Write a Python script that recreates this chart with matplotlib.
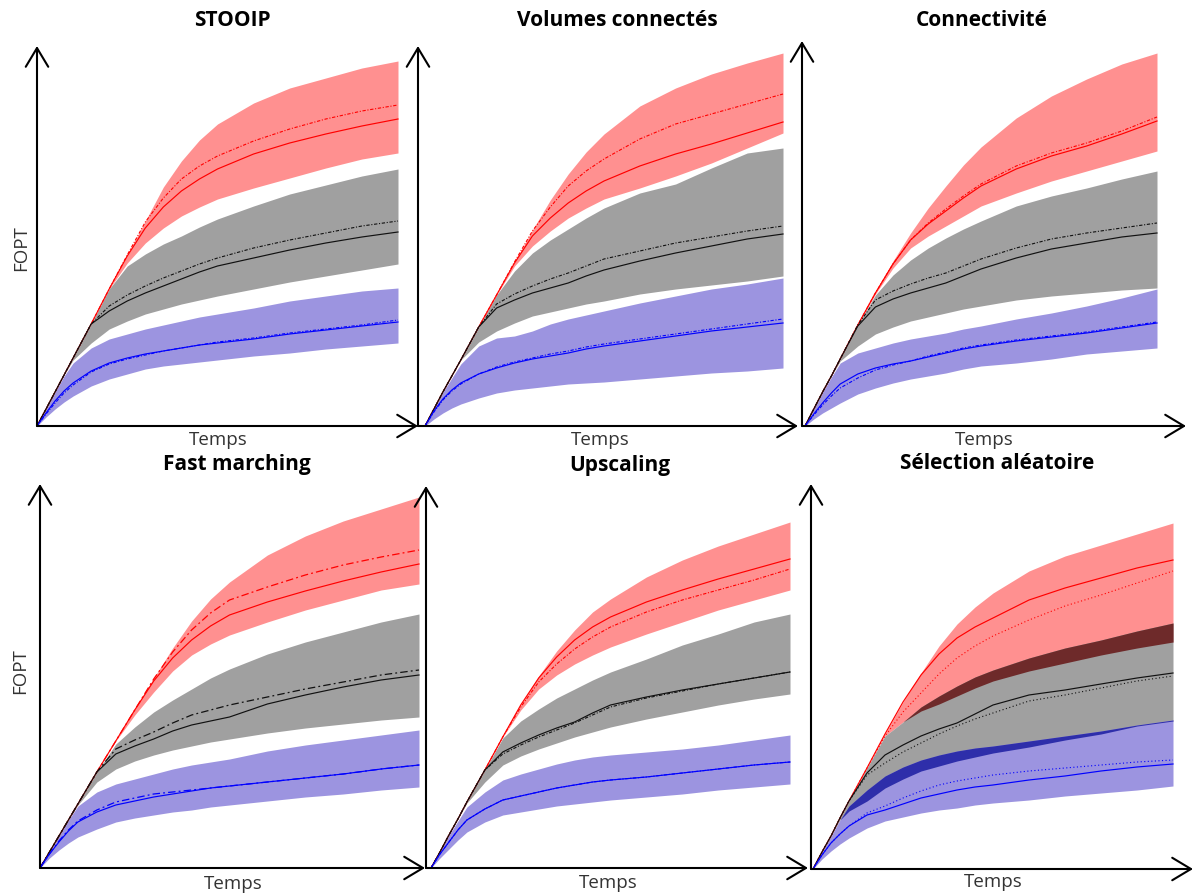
import matplotlib.pyplot as plt

plt.rcParams['font.family'] = ['Open Sans', 'DejaVu Sans']

# time axis (percent of simulated period)
T = [0, 2.5, 5, 7.5, 10, 15, 20, 25, 30, 35, 40, 45, 50, 60, 70, 80, 90, 100]

# STOOIP
stooip_red_hi = [0, 17, 34, 51, 68, 102, 137, 171, 205, 239, 265, 286, 302, 323, 338, 348, 358, 365]
stooip_red_lo = [0, 17, 34, 51, 68, 102, 137, 163, 183, 198, 210, 219, 227, 238, 248, 258, 267, 273]
stooip_red_ref = [0, 17, 34, 51, 68, 102, 137, 170, 198, 219, 235, 247, 257, 272, 283, 292, 300, 307]
stooip_red_sel = [0, 17, 34, 51, 68, 102, 137, 171, 204, 228, 247, 260, 270, 285, 297, 307, 315, 321]
stooip_gray_hi = [0, 17, 34, 51, 68, 102, 137, 160, 172, 182, 190, 199, 207, 220, 232, 241, 250, 257]
stooip_gray_lo = [0, 17, 34, 51, 66, 83, 97, 105, 112, 117, 122, 126, 130, 137, 144, 150, 156, 162]
stooip_gray_ref = [0, 17, 34, 51, 68, 102, 115, 125, 133, 140, 147, 154, 160, 168, 176, 183, 189, 194]
stooip_gray_sel = [0, 17, 34, 51, 68, 102, 120, 131, 140, 148, 155, 162, 168, 178, 186, 193, 200, 205]
stooip_blue_hi = [0, 17, 34, 50, 63, 78, 87, 92, 97, 101, 105, 109, 112, 118, 125, 130, 135, 138]
stooip_blue_lo = [0, 9, 17, 24, 30, 40, 47, 52, 57, 60, 62, 64, 66, 70, 73, 77, 80, 83]
stooip_blue_ref = [0, 13, 25, 35, 43, 55, 63, 68, 72, 75, 78, 81, 83, 87, 92, 96, 100, 104]
stooip_blue_sel = [0, 12, 23, 33, 41, 54, 62, 67, 71, 75, 78, 81, 84, 88, 93, 97, 101, 106]

# Volumes connectes
volco_red_hi = [0, 17, 34, 50, 66, 99, 131, 164, 196, 226, 252, 274, 292, 320, 338, 352, 363, 373]
volco_red_lo = [0, 17, 34, 50, 66, 99, 131, 160, 180, 195, 208, 218, 227, 238, 250, 263, 278, 293]
volco_red_ref = [0, 17, 34, 50, 66, 99, 131, 163, 190, 208, 223, 235, 245, 260, 272, 282, 293, 304]
volco_red_sel = [0, 17, 34, 50, 66, 99, 131, 164, 195, 219, 240, 255, 267, 287, 302, 312, 322, 332]
volco_gray_hi = [0, 17, 34, 50, 66, 99, 131, 155, 173, 186, 197, 208, 218, 233, 242, 258, 273, 278]
volco_gray_lo = [0, 17, 34, 50, 66, 84, 95, 103, 110, 114, 118, 122, 125, 132, 137, 141, 145, 150]
volco_gray_ref = [0, 17, 34, 50, 66, 99, 118, 126, 133, 138, 143, 150, 156, 165, 173, 180, 187, 192]
volco_gray_sel = [0, 17, 34, 50, 66, 99, 122, 132, 140, 147, 153, 160, 167, 175, 183, 189, 195, 200]
volco_blue_hi = [0, 17, 34, 48, 62, 80, 88, 90, 95, 102, 107, 111, 115, 123, 130, 137, 142, 148]
volco_blue_lo = [0, 7, 13, 18, 22, 28, 33, 36, 38, 40, 42, 43, 44, 47, 50, 53, 55, 58]
volco_blue_ref = [0, 15, 27, 36, 43, 52, 58, 63, 67, 70, 73, 77, 80, 85, 90, 95, 99, 103]
volco_blue_sel = [0, 14, 26, 35, 42, 52, 59, 64, 68, 72, 75, 79, 82, 87, 92, 97, 102, 107]

# Connectivite
conn_red_hi = [0, 17, 34, 50, 67, 101, 134, 165, 193, 218, 240, 261, 279, 308, 330, 347, 362, 373]
conn_red_lo = [0, 17, 34, 50, 67, 101, 132, 158, 178, 190, 200, 210, 220, 233, 245, 255, 265, 275]
conn_red_ref = [0, 17, 34, 50, 67, 101, 133, 162, 186, 202, 215, 228, 240, 257, 270, 280, 292, 305]
conn_red_sel = [0, 17, 34, 50, 67, 101, 133, 162, 186, 203, 217, 230, 242, 260, 273, 283, 295, 309]
conn_gray_hi = [0, 17, 34, 50, 67, 101, 131, 151, 166, 178, 188, 197, 205, 220, 230, 238, 247, 255]
conn_gray_lo = [0, 17, 34, 50, 65, 80, 92, 99, 105, 109, 113, 117, 120, 126, 130, 133, 136, 138]
conn_gray_ref = [0, 17, 34, 50, 67, 100, 119, 127, 133, 138, 143, 150, 157, 168, 177, 183, 189, 193]
conn_gray_sel = [0, 17, 34, 50, 67, 101, 126, 135, 142, 148, 153, 160, 167, 178, 187, 193, 198, 203]
conn_blue_hi = [0, 17, 34, 49, 63, 73, 78, 83, 87, 90, 93, 97, 100, 107, 113, 120, 128, 137]
conn_blue_lo = [0, 7, 13, 18, 23, 32, 38, 43, 47, 50, 53, 57, 60, 63, 67, 72, 75, 78]
conn_blue_ref = [0, 12, 23, 33, 42, 52, 58, 62, 65, 69, 73, 77, 80, 85, 89, 93, 98, 103]
conn_blue_sel = [0, 11, 21, 30, 38, 48, 56, 61, 65, 70, 74, 78, 81, 86, 90, 94, 99, 104]

# Fast marching
fm_red_hi = [0, 16, 32, 48, 64, 96, 127, 159, 190, 220, 247, 269, 286, 313, 332, 347, 359, 371]
fm_red_lo = [0, 16, 32, 48, 64, 96, 127, 153, 176, 197, 213, 224, 233, 246, 258, 268, 278, 284]
fm_red_ref = [0, 16, 32, 48, 64, 96, 127, 158, 187, 210, 228, 242, 253, 266, 277, 287, 296, 304]
fm_red_sel = [0, 16, 32, 48, 64, 96, 127, 158, 189, 216, 238, 255, 268, 281, 293, 303, 311, 318]
fm_gray_hi = [0, 16, 32, 48, 64, 96, 124, 141, 156, 168, 179, 190, 199, 214, 226, 236, 246, 254]
fm_gray_lo = [0, 16, 32, 48, 63, 86, 99, 107, 113, 118, 122, 126, 129, 135, 140, 144, 148, 151]
fm_gray_ref = [0, 16, 32, 48, 64, 96, 114, 122, 129, 137, 143, 147, 151, 164, 173, 181, 188, 193]
fm_gray_sel = [0, 16, 32, 48, 64, 96, 119, 128, 136, 145, 153, 158, 163, 171, 179, 186, 193, 198]
fm_blue_hi = [0, 16, 32, 48, 62, 76, 84, 89, 94, 99, 103, 106, 109, 117, 123, 128, 133, 138]
fm_blue_lo = [0, 10, 18, 25, 31, 39, 46, 50, 53, 56, 58, 61, 63, 67, 71, 74, 78, 81]
fm_blue_ref = [0, 14, 26, 37, 46, 56, 63, 67, 71, 74, 77, 80, 82, 86, 90, 94, 99, 103]
fm_blue_sel = [0, 14, 27, 38, 47, 58, 66, 70, 74, 76, 78, 80, 82, 86, 90, 94, 99, 103]

# Upscaling
up_red_hi = [0, 16, 33, 49, 66, 98, 131, 163, 192, 217, 238, 256, 269, 291, 308, 322, 334, 346]
up_red_lo = [0, 16, 33, 49, 66, 98, 131, 158, 179, 193, 204, 213, 221, 234, 246, 258, 268, 278]
up_red_ref = [0, 16, 33, 49, 66, 98, 131, 163, 190, 211, 228, 241, 251, 266, 278, 289, 299, 309]
up_red_sel = [0, 16, 33, 49, 66, 98, 131, 161, 186, 204, 219, 231, 241, 256, 268, 278, 288, 299]
up_gray_hi = [0, 16, 33, 49, 66, 98, 130, 147, 159, 170, 179, 188, 196, 209, 223, 234, 246, 254]
up_gray_lo = [0, 16, 33, 49, 65, 86, 103, 112, 119, 125, 131, 136, 141, 149, 156, 163, 169, 174]
up_gray_ref = [0, 16, 33, 49, 66, 98, 116, 125, 133, 140, 146, 155, 163, 171, 178, 184, 190, 196]
up_gray_sel = [0, 16, 33, 49, 66, 98, 114, 123, 131, 138, 145, 153, 161, 170, 177, 184, 190, 196]
up_blue_hi = [0, 16, 33, 47, 61, 76, 88, 94, 99, 104, 108, 111, 113, 116, 119, 123, 128, 133]
up_blue_lo = [0, 10, 19, 28, 36, 46, 53, 56, 59, 62, 64, 66, 68, 71, 74, 78, 81, 84]
up_blue_ref = [0, 14, 26, 38, 48, 59, 68, 72, 76, 80, 83, 86, 88, 91, 95, 99, 103, 106]
up_blue_sel = [0, 14, 26, 38, 48, 59, 68, 72, 76, 80, 83, 86, 88, 91, 95, 99, 103, 106]

# Selection aleatoire
sel_red_hi = [0, 17, 33, 51, 68, 101, 135, 167, 196, 223, 245, 262, 276, 298, 313, 324, 335, 346]
sel_red_lo = [0, 17, 33, 51, 68, 101, 133, 147, 158, 165, 173, 181, 188, 198, 206, 214, 221, 227]
sel_red_ref = [0, 17, 33, 51, 68, 101, 135, 167, 194, 215, 231, 242, 251, 269, 281, 291, 301, 309]
sel_red_sel = [0, 17, 33, 51, 68, 101, 133, 157, 176, 195, 211, 223, 233, 249, 263, 274, 286, 298]
sel_gray_hi = [0, 17, 33, 51, 68, 101, 133, 147, 162, 173, 183, 192, 199, 211, 221, 229, 238, 246]
sel_gray_lo = [0, 17, 33, 49, 58, 68, 81, 90, 98, 103, 108, 112, 116, 122, 129, 135, 143, 148]
sel_gray_ref = [0, 17, 33, 51, 68, 96, 114, 124, 133, 140, 146, 155, 164, 174, 179, 185, 191, 196]
sel_gray_sel = [0, 17, 33, 51, 68, 94, 106, 117, 126, 135, 143, 150, 156, 168, 174, 181, 188, 193]
sel_blue_hi = [0, 17, 33, 49, 63, 79, 93, 102, 109, 114, 118, 121, 123, 128, 133, 138, 144, 149]
sel_blue_lo = [0, 10, 18, 25, 31, 41, 48, 52, 56, 59, 61, 64, 66, 69, 73, 76, 79, 83]
sel_blue_ref = [0, 14, 26, 35, 43, 54, 59, 65, 71, 75, 79, 82, 84, 89, 93, 98, 102, 105]
sel_blue_sel = [0, 14, 26, 35, 43, 56, 63, 71, 78, 84, 88, 91, 94, 98, 101, 104, 107, 109]

titles = ["STOOIP", "Volumes connectés", "Connectivité",
          "Fast marching", "Upscaling", "Sélection aléatoire"]

panel_data = [
    (stooip_red_hi, stooip_red_lo, stooip_red_ref, stooip_red_sel,
     stooip_gray_hi, stooip_gray_lo, stooip_gray_ref, stooip_gray_sel,
     stooip_blue_hi, stooip_blue_lo, stooip_blue_ref, stooip_blue_sel),
    (volco_red_hi, volco_red_lo, volco_red_ref, volco_red_sel,
     volco_gray_hi, volco_gray_lo, volco_gray_ref, volco_gray_sel,
     volco_blue_hi, volco_blue_lo, volco_blue_ref, volco_blue_sel),
    (conn_red_hi, conn_red_lo, conn_red_ref, conn_red_sel,
     conn_gray_hi, conn_gray_lo, conn_gray_ref, conn_gray_sel,
     conn_blue_hi, conn_blue_lo, conn_blue_ref, conn_blue_sel),
    (fm_red_hi, fm_red_lo, fm_red_ref, fm_red_sel,
     fm_gray_hi, fm_gray_lo, fm_gray_ref, fm_gray_sel,
     fm_blue_hi, fm_blue_lo, fm_blue_ref, fm_blue_sel),
    (up_red_hi, up_red_lo, up_red_ref, up_red_sel,
     up_gray_hi, up_gray_lo, up_gray_ref, up_gray_sel,
     up_blue_hi, up_blue_lo, up_blue_ref, up_blue_sel),
    (sel_red_hi, sel_red_lo, sel_red_ref, sel_red_sel,
     sel_gray_hi, sel_gray_lo, sel_gray_ref, sel_gray_sel,
     sel_blue_hi, sel_blue_lo, sel_blue_ref, sel_blue_sel),
]

# layout in reference pixels:
# (y-axis x, curve origin x, x-axis y, arrow top y, arrow right x, data end x)
layout = [
    (37, 37, 427, 47, 418, 398),
    (418, 425, 427, 47, 798, 783),
    (802, 805, 427, 42, 1186, 1157),
    (40, 40, 869, 485, 425, 419),
    (426, 431, 869, 487, 808, 790),
    (811, 813, 870, 485, 1193, 1173),
]
title_pos = [(232, 21), (617, 21), (982, 20), (237, 465), (620, 466), (997, 464)]
temps_pos = [(218, 440), (600, 440), (984, 440), (233, 884), (608, 883), (993, 882)]
fopt_pos = [(21, 248), (20, 671)]

W, H = 1196, 895
RED_FILL, GRAY_FILL, BLUE_FILL = "#ff9090", "#a0a0a0", "#9c94e0"
DARK_RED, DARK_BLUE = "#6e2a2a", "#2e2eaa"


def fx(x):
    return x / W


def fy(y):
    return 1 - y / H


fig = plt.figure(figsize=(W / 100, H / 100), dpi=100)

for i, (title, d) in enumerate(zip(titles, panel_data)):
    yax, x0, xay, top, right, xend = layout[i]
    ax = fig.add_axes([fx(yax), fy(xay), (right - yax) / W, (xay - top) / H])
    ppu = (xend - x0) / 100.0
    ax.set_xlim(-(x0 - yax) / ppu, (right - x0) / ppu)
    ax.set_ylim(0, xay - top)
    ax.axis("off")

    (r_hi, r_lo, r_ref, r_sel, g_hi, g_lo, g_ref, g_sel,
     b_hi, b_lo, b_ref, b_sel) = d

    ax.fill_between(T, r_lo, r_hi, color=RED_FILL, lw=0)
    ax.fill_between(T, g_lo, g_hi, color=GRAY_FILL, lw=0)
    ax.fill_between(T, b_lo, b_hi, color=BLUE_FILL, lw=0)

    if i == 5:
        # overlapping uncertainty ranges
        ax.fill_between(T, r_lo, g_hi, where=[a > b for a, b in zip(g_hi, r_lo)],
                        interpolate=True, color=DARK_RED, lw=0)
        ax.fill_between(T, g_lo, b_hi, where=[a > b for a, b in zip(b_hi, g_lo)],
                        interpolate=True, color=DARK_BLUE, lw=0)
        style = dict(ls=(0, (1, 2.2)), lw=0.8)
    elif i == 3:
        style = dict(ls=(0, (6, 2.5, 1.5, 2.5)), lw=0.9)
    else:
        style = dict(ls=(0, (3, 1.5, 1, 1.5)), lw=0.8)

    for ref, sel, c in [(r_ref, r_sel, "#ff0000"), (g_ref, g_sel, "#111111"),
                        (b_ref, b_sel, "#0000ff")]:
        ax.plot(T, sel, color=c, **style)
        ax.plot(T, ref, color=c, lw=0.85)

    arrow = dict(arrowstyle="->,head_length=0.75,head_width=0.45", lw=1.5,
                 color="black", mutation_scale=18, shrinkA=0, shrinkB=0)
    ax.annotate("", xy=(1, 0), xytext=(0, 0), xycoords="axes fraction",
                arrowprops=arrow, annotation_clip=False)
    ax.annotate("", xy=(0, 1), xytext=(0, 0), xycoords="axes fraction",
                arrowprops=arrow, annotation_clip=False)

    tx, ty = title_pos[i]
    fig.text(fx(tx), fy(ty), title, ha="center", va="center",
             fontsize=15, fontweight="bold")
    px, py = temps_pos[i]
    fig.text(fx(px), fy(py), "Temps", ha="center", va="center",
             fontsize=13.5, color="#333333")

for px, py in fopt_pos:
    fig.text(fx(px), fy(py), "FOPT", ha="center", va="center",
             rotation=90, fontsize=13.5, color="#333333")

fig.savefig("out.png", dpi=100)
